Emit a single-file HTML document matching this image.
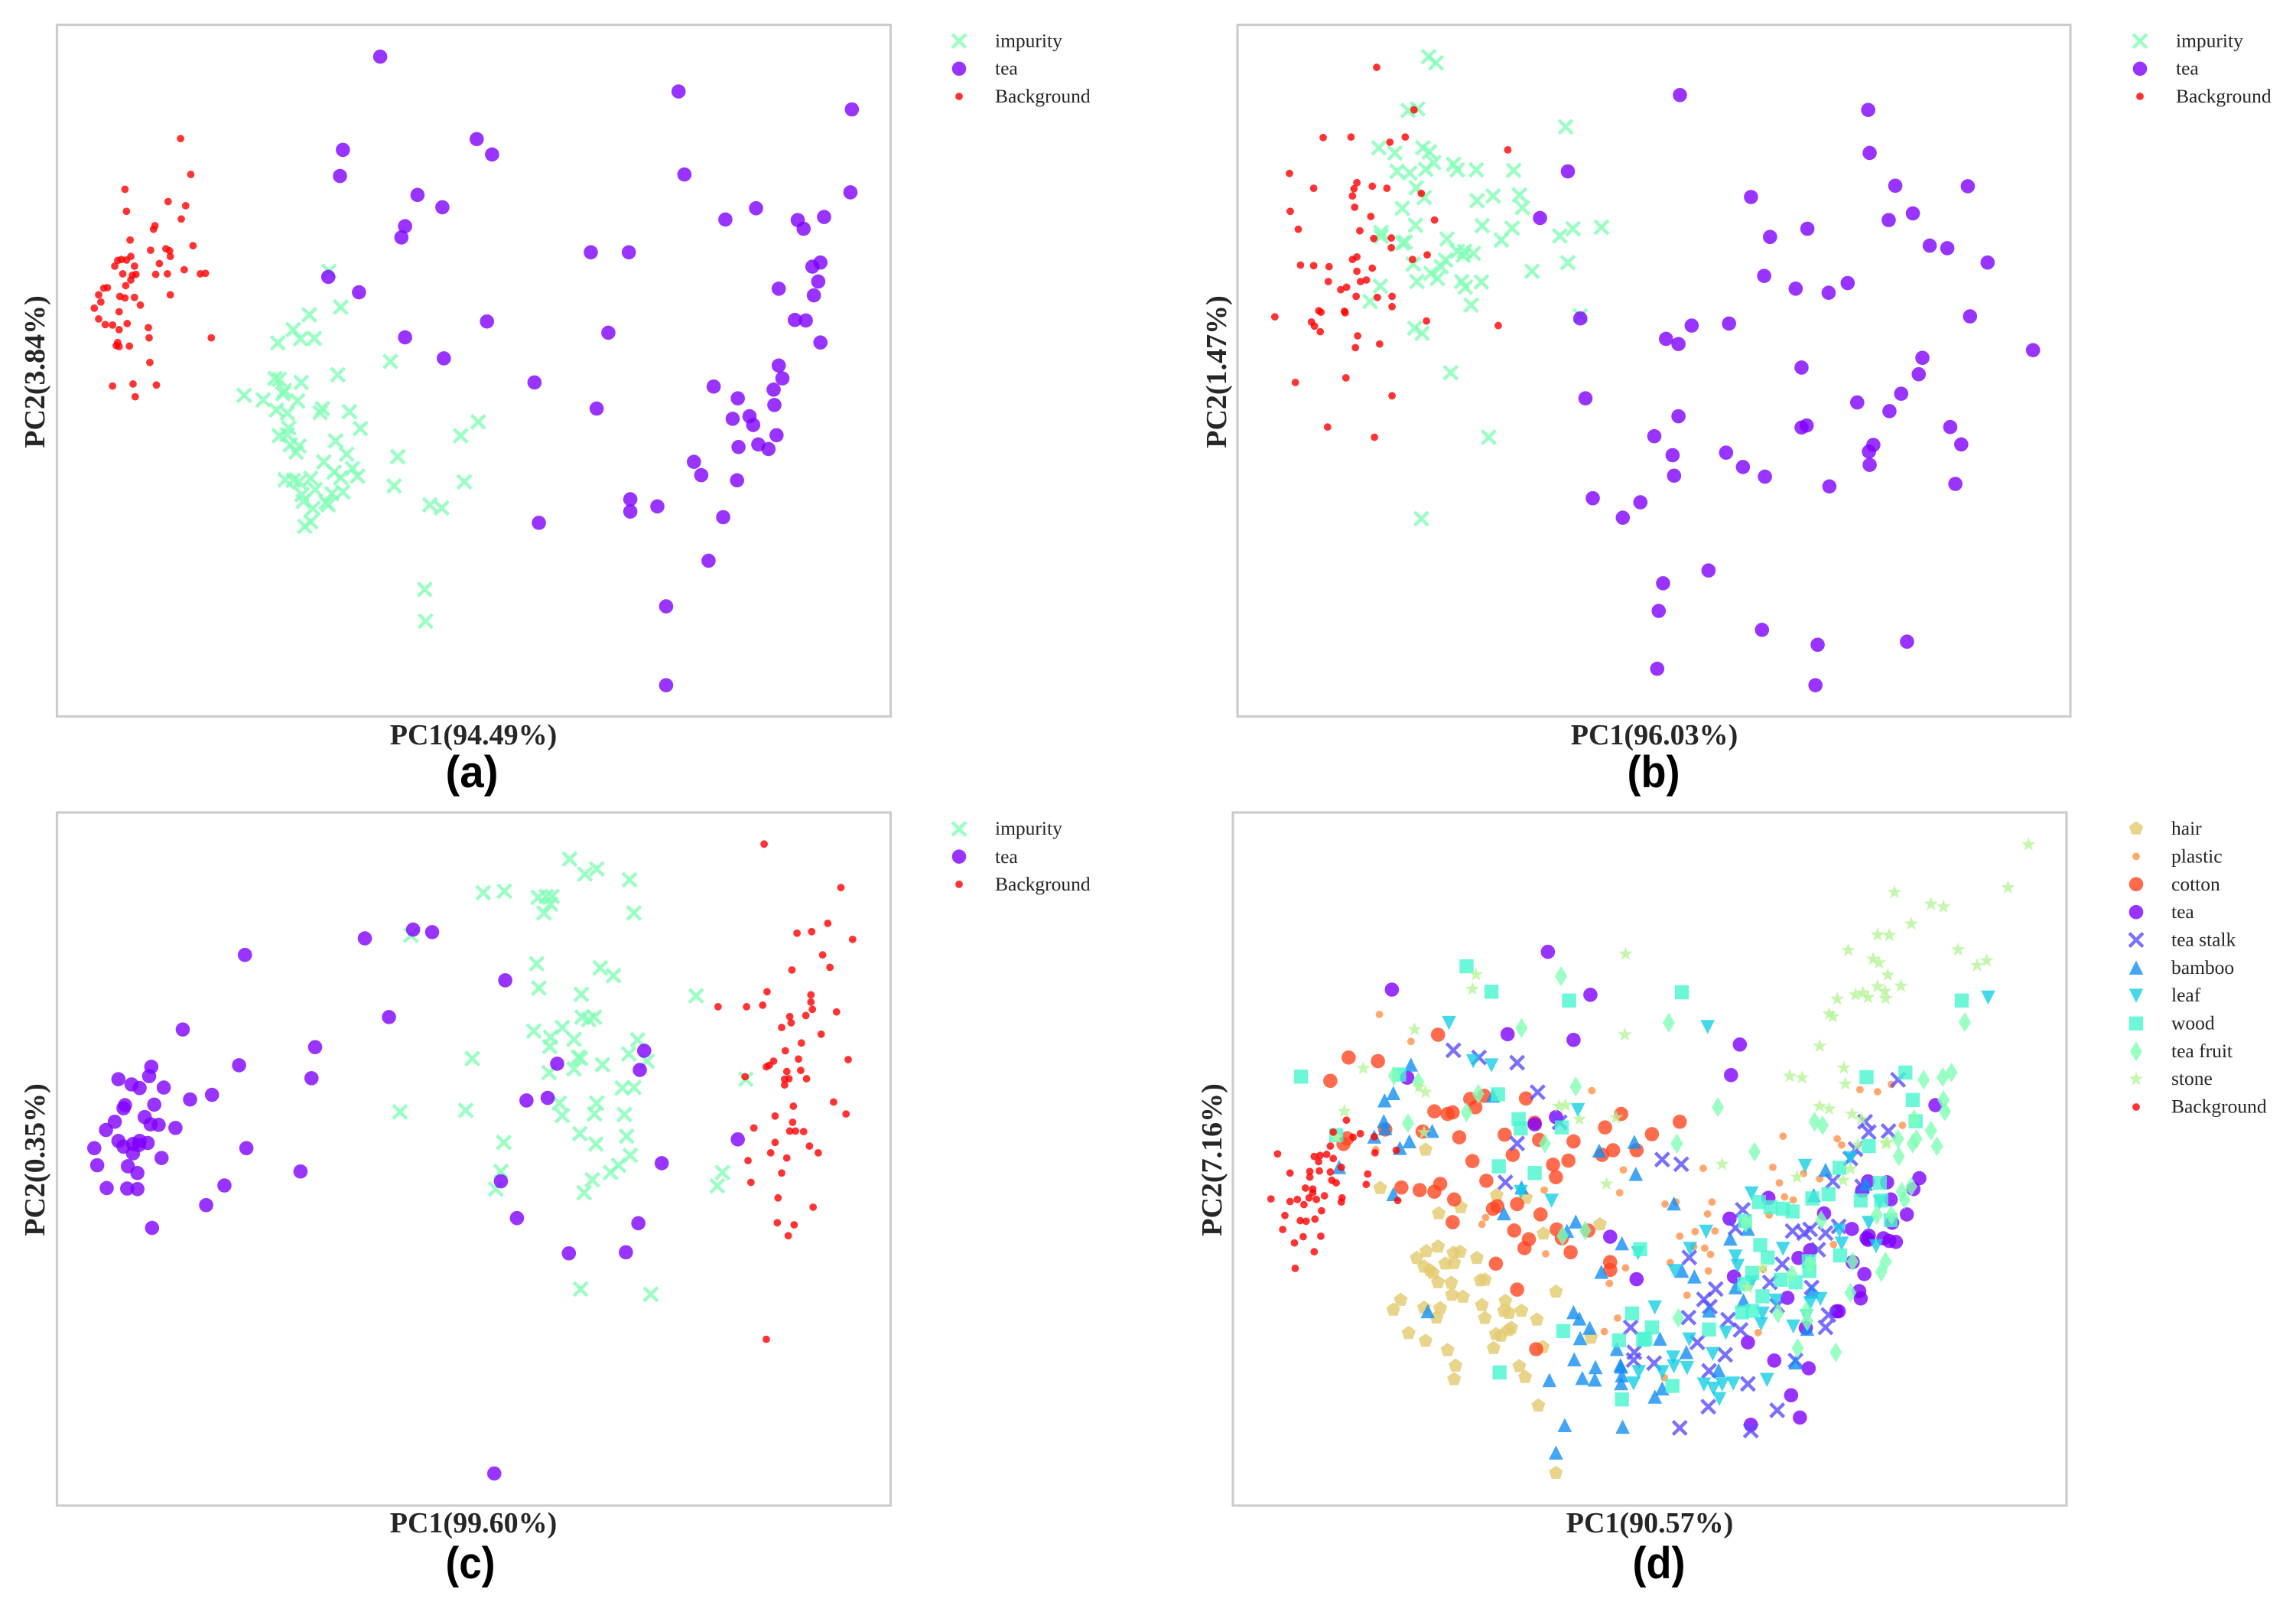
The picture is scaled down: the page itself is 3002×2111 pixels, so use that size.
<!DOCTYPE html>
<html lang="en">
<head>
<meta charset="utf-8">
<title>PCA score plots</title>
<style>
html,body{margin:0;padding:0;background:#fff;}
svg{display:block;}
.frame{fill:#fff;stroke:#cccccc;stroke-width:3.2;}
.legend-text{font-family:"Liberation Serif",serif;font-size:25.5px;fill:#262626;}
.axis-title{font-family:"Liberation Serif",serif;font-size:38px;font-weight:bold;fill:#262626;text-anchor:middle;}
.panel-tag{font-family:"Liberation Sans",sans-serif;font-size:58px;font-weight:bold;fill:#000;text-anchor:middle;}
</style>
</head>
<body>
<svg id="fig" xmlns="http://www.w3.org/2000/svg" width="3002" height="2111" viewBox="0 0 3002 2111">
  <rect x="0" y="0" width="3002" height="2111" fill="#fff"/>

  <g id="panel-a">
    <rect class="frame" x="74.5" y="32.5" width="1090" height="904"/>
    <text class="axis-title" x="619" y="973">PC1(94.49%)</text>
    <text class="axis-title" transform="translate(58 486) rotate(-90)">PC2(3.84%)</text>
    <text class="panel-tag" x="617" y="1029" textLength="69" lengthAdjust="spacingAndGlyphs">(a)</text>
    <text class="legend-text" x="1301" y="61.5">impurity</text>
    <text class="legend-text" x="1301" y="97.5">tea</text>
    <text class="legend-text" x="1301" y="134">Background</text>
  </g>

  <g id="panel-b">
    <rect class="frame" x="1618" y="32.5" width="1089" height="904"/>
    <text class="axis-title" x="2163" y="973">PC1(96.03%)</text>
    <text class="axis-title" transform="translate(1603 486) rotate(-90)">PC2(1.47%)</text>
    <text class="panel-tag" x="2162" y="1029" textLength="69" lengthAdjust="spacingAndGlyphs">(b)</text>
    <text class="legend-text" x="2845" y="61.5">impurity</text>
    <text class="legend-text" x="2845" y="97.5">tea</text>
    <text class="legend-text" x="2845" y="134">Background</text>
  </g>

  <g id="panel-c">
    <rect class="frame" x="74.5" y="1062" width="1090" height="906"/>
    <text class="axis-title" x="619" y="2003">PC1(99.60%)</text>
    <text class="axis-title" transform="translate(58 1516) rotate(-90)">PC2(0.35%)</text>
    <text class="panel-tag" x="615" y="2063" textLength="65" lengthAdjust="spacingAndGlyphs">(c)</text>
    <text class="legend-text" x="1301" y="1091">impurity</text>
    <text class="legend-text" x="1301" y="1128">tea</text>
    <text class="legend-text" x="1301" y="1164">Background</text>
  </g>

  <g id="panel-d">
    <rect class="frame" x="1612" y="1062" width="1090" height="906"/>
    <text class="axis-title" x="2157" y="2003">PC1(90.57%)</text>
    <text class="axis-title" transform="translate(1597 1516) rotate(-90)">PC2(7.16%)</text>
    <text class="panel-tag" x="2169" y="2063" textLength="69" lengthAdjust="spacingAndGlyphs">(d)</text>
    <text class="legend-text" x="2839" y="1091">hair</text>
    <text class="legend-text" x="2839" y="1127.5">plastic</text>
    <text class="legend-text" x="2839" y="1164">cotton</text>
    <text class="legend-text" x="2839" y="1200">tea</text>
    <text class="legend-text" x="2839" y="1236.5">tea stalk</text>
    <text class="legend-text" x="2839" y="1273">bamboo</text>
    <text class="legend-text" x="2839" y="1309">leaf</text>
    <text class="legend-text" x="2839" y="1345.5">wood</text>
    <text class="legend-text" x="2839" y="1382">tea fruit</text>
    <text class="legend-text" x="2839" y="1418">stone</text>
    <text class="legend-text" x="2839" y="1454.5">Background</text>
  </g>
</svg>

<script>
/* Panel (a) scores */
const aImpurity=[[449,529],[465,599],[422,614],[400,643],[379,669],[410,661],[429,660],[533,705],[461,731],[375,738],[381,740],[411,746],[388,762],[386,768],[333,771],[359,780],[406,782],[377,800],[392,806],[440,797],[437,805],[477,803],[492,836],[394,835],[381,850],[392,848],[458,860],[396,868],[408,870],[404,882],[473,886],[653,823],[629,850],[543,891],[442,901],[456,921],[481,914],[488,929],[465,932],[389,936],[400,937],[408,940],[424,933],[430,955],[412,965],[538,948],[634,940],[468,960],[453,963],[414,978],[445,980],[448,985],[427,992],[587,985],[603,991],[424,1018],[416,1027],[580,1150],[581,1212]];
const aTea=[[519,110],[927,178],[1164,213],[651,271],[672,301],[468,292],[464,343],[935,340],[570,380],[604,404],[553,441],[548,463],[1162,375],[1033,406],[991,428],[1090,429],[1126,423],[1098,446],[807,492],[859,492],[1121,512],[1110,520],[1118,549],[1064,563],[1112,576],[448,540],[490,570],[665,627],[553,658],[606,699],[831,649],[1086,624],[1101,625],[1121,668],[1064,713],[1069,738],[730,746],[975,754],[1057,760],[1008,777],[1058,790],[815,797],[1024,812],[1001,817],[1029,829],[1061,849],[1036,867],[1009,872],[1050,876],[948,901],[958,927],[1007,937],[861,974],[861,998],[898,988],[736,1020],[988,1009],[968,1094],[910,1183],[910,1337]];
const aBackground=[[246,270],[260,340],[170,369],[229,393],[253,401],[172,412],[247,427],[211,440],[209,447],[177,468],[263,479],[205,488],[226,485],[231,489],[178,500],[232,500],[160,508],[165,506],[172,507],[156,519],[183,519],[217,514],[251,526],[273,534],[280,533],[167,534],[185,535],[212,535],[228,534],[180,537],[178,546],[171,557],[141,562],[146,561],[134,575],[163,578],[170,581],[183,580],[232,575],[137,589],[191,595],[128,601],[162,608],[134,622],[143,633],[153,634],[173,631],[202,639],[162,643],[203,659],[288,659],[160,668],[158,674],[162,676],[176,675],[204,707],[181,749],[153,753],[213,751],[184,774]];

/* Panel (b) scores */
const bImpurity=[[384,110],[394,122],[369,212],[356,215],[571,247],[316,288],[376,288],[338,298],[385,296],[391,317],[418,320],[423,331],[380,330],[449,331],[341,334],[358,337],[500,332],[367,366],[508,380],[378,385],[472,382],[450,391],[512,405],[348,406],[366,439],[457,440],[498,445],[581,446],[620,443],[319,453],[563,460],[319,461],[409,466],[483,468],[352,472],[348,474],[423,490],[433,490],[445,494],[431,498],[407,507],[574,512],[363,515],[401,520],[525,529],[387,533],[396,543],[368,549],[429,549],[456,550],[318,558],[434,560],[304,588],[442,595],[591,616],[365,640],[375,650],[414,727],[466,853],[374,1012]];
const bTea=[[727,185],[984,214],[986,298],[574,334],[1021,362],[1120,363],[824,384],[1045,416],[1012,429],[536,425],[901,446],[850,462],[1068,479],[1092,484],[1147,512],[842,538],[956,552],[885,563],[930,571],[1123,617],[591,621],[743,635],[794,631],[708,661],[725,671],[1209,683],[1058,698],[893,717],[1053,730],[1029,768],[969,785],[598,777],[1013,802],[725,812],[1096,833],[900,830],[893,834],[692,851],[991,868],[985,881],[1111,867],[717,888],[790,883],[813,911],[986,907],[719,928],[843,930],[931,949],[1103,944],[608,972],[673,980],[649,1010],[766,1113],[704,1138],[698,1192],[839,1229],[915,1258],[1037,1252],[696,1305],[912,1337]];
const bBackground=[[313,131],[364,214],[240,268],[278,267],[352,267],[331,277],[492,292],[194,338],[286,356],[307,363],[227,367],[282,368],[327,367],[374,377],[280,382],[283,404],[195,412],[305,422],[392,429],[206,447],[290,450],[333,464],[309,465],[333,483],[382,497],[286,501],[280,506],[362,506],[209,517],[227,518],[248,520],[307,523],[286,529],[299,546],[247,549],[291,549],[272,560],[264,565],[285,578],[314,580],[334,578],[334,598],[234,606],[237,609],[269,607],[270,610],[174,618],[224,628],[228,636],[381,626],[479,635],[236,647],[287,655],[317,671],[284,678],[202,746],[271,737],[334,772],[246,833],[310,853]];

/* Panel (c) scores */
const cImpurity=[[778,108],[815,127],[799,137],[860,148],[660,173],[689,170],[735,182],[746,180],[754,180],[752,195],[743,212],[866,212],[561,255],[733,310],[820,318],[838,333],[736,357],[794,369],[951,372],[812,413],[795,413],[804,418],[768,433],[729,440],[752,452],[784,456],[751,470],[871,457],[859,484],[645,493],[884,498],[790,490],[793,493],[784,513],[823,505],[750,520],[1019,533],[850,550],[866,549],[546,596],[636,593],[764,579],[815,579],[812,600],[853,601],[768,603],[792,638],[856,643],[688,655],[814,658],[861,680],[845,699],[834,713],[684,711],[809,727],[987,713],[980,739],[677,745],[798,752],[793,938],[889,948]];
const cTea=[[334,293],[498,261],[564,244],[590,249],[690,342],[531,413],[249,437],[430,471],[326,506],[206,509],[203,527],[161,533],[179,543],[190,550],[223,549],[425,531],[289,563],[259,572],[210,582],[170,583],[168,589],[197,606],[156,615],[205,620],[216,621],[239,627],[144,631],[161,652],[190,652],[201,656],[168,663],[181,658],[189,660],[128,666],[336,666],[181,676],[220,685],[132,699],[174,701],[187,714],[410,711],[145,743],[173,744],[187,745],[306,738],[281,776],[207,820],[880,478],[874,515],[761,503],[748,569],[719,574],[1008,649],[904,695],[684,730],[706,801],[872,811],[855,867],[777,869],[675,1294]];
const cBackground=[[1044,79],[1149,163],[1131,232],[1089,251],[1109,248],[1165,263],[1124,293],[1134,317],[1082,322],[1048,364],[1108,370],[1108,384],[981,393],[1020,393],[1042,390],[1110,398],[1143,403],[1101,410],[1079,412],[1081,424],[1068,433],[1122,446],[1095,463],[1073,478],[1159,495],[1091,494],[1057,498],[1051,506],[1047,509],[1075,518],[1094,516],[1018,528],[1072,533],[1078,532],[1102,532],[1072,544],[1139,577],[1084,585],[1156,600],[1059,604],[1083,616],[1030,627],[1079,633],[1087,633],[1098,634],[1059,655],[1106,662],[1053,675],[1118,675],[1075,685],[1022,690],[1068,714],[1026,732],[1063,762],[1111,780],[1062,810],[1085,814],[1077,835],[1047,1035]];

/* Panel (d) scores */
const dHair=[[380,669],[318,743],[477,757],[517,762],[428,780],[398,792],[618,813],[541,831],[397,856],[381,865],[368,878],[418,868],[427,866],[450,878],[407,889],[419,888],[378,895],[386,902],[390,907],[397,925],[415,926],[455,921],[461,920],[558,943],[416,949],[431,953],[346,959],[336,978],[378,974],[400,975],[395,993],[457,969],[461,994],[489,961],[487,980],[494,984],[511,980],[532,997],[357,1023],[380,1038],[476,1025],[483,1028],[493,1017],[497,1013],[540,1050],[606,1032],[473,1052],[410,1056],[421,1086],[419,1112],[508,1087],[516,1108],[534,1163],[558,1293]];
const dPlastic=[[317,408],[360,460],[607,555],[312,669],[650,708],[759,705],[854,703],[868,643],[942,648],[948,660],[973,553],[997,557],[1016,543],[1031,622],[896,715],[918,725],[863,733],[645,752],[542,747],[462,800],[457,813],[771,770],[707,774],[722,770],[765,793],[748,827],[727,836],[775,826],[761,859],[769,871],[746,856],[714,887],[653,897],[631,927],[766,903],[737,950],[642,994],[624,1020],[834,1022],[706,1109],[849,795],[870,760],[882,766],[841,900],[937,852],[544,870]];
const dCotton=[[397,447],[275,491],[315,498],[250,536],[517,570],[441,571],[460,565],[448,587],[392,595],[410,600],[417,597],[647,600],[625,626],[727,615],[689,639],[376,634],[325,630],[268,658],[273,647],[426,645],[488,640],[535,650],[529,617],[582,653],[636,670],[668,670],[621,679],[499,679],[444,691],[554,698],[575,690],[463,729],[558,722],[347,742],[372,747],[392,750],[400,735],[419,765],[472,783],[478,778],[505,774],[417,809],[537,794],[501,825],[521,842],[515,859],[559,823],[566,840],[578,867],[602,825],[476,889],[632,886],[632,901],[505,939],[531,1054]];
const dTea=[[547,287],[334,360],[605,370],[492,446],[582,457],[809,466],[797,525],[355,530],[1076,583],[529,620],[558,606],[1054,724],[984,730],[1010,732],[848,762],[976,748],[1046,745],[795,802],[1015,765],[1037,794],[924,792],[962,822],[632,837],[985,835],[1022,847],[982,840],[1013,845],[905,863],[889,878],[963,886],[668,919],[801,914],[979,909],[972,942],[974,956],[874,955],[941,981],[944,981],[899,1013],[820,1041],[856,1076],[903,1091],[879,1143],[891,1186],[824,1200],[984,843],[1017,810],[1005,840]];
const dTeaStalk=[[418,477],[453,491],[505,501],[533,558],[563,616],[505,657],[703,688],[729,697],[489,732],[1025,534],[980,615],[985,635],[1012,633],[967,668],[960,686],[936,730],[813,785],[803,820],[881,826],[897,830],[905,823],[926,830],[944,817],[916,862],[740,877],[867,890],[850,925],[776,938],[760,958],[768,972],[739,993],[793,997],[860,970],[907,935],[926,1012],[930,988],[660,1012],[810,1017],[751,1041],[665,1060],[789,1065],[692,1081],[664,1075],[767,1096],[885,1076],[820,1121],[766,1165],[860,1172],[727,1206],[824,1211],[976,740]];
const dBamboo=[[360,505],[336,560],[324,574],[323,614],[325,628],[389,633],[358,653],[345,666],[310,644],[262,703],[336,755],[472,565],[665,654],[617,671],[667,716],[511,742],[487,792],[719,773],[585,808],[573,826],[648,850],[796,841],[820,822],[620,905],[730,903],[747,914],[803,935],[814,960],[767,980],[383,981],[582,983],[590,995],[604,1013],[591,1033],[583,1074],[641,1054],[736,1060],[700,1034],[646,1085],[647,1088],[612,1089],[594,1110],[611,1113],[549,1114],[647,1120],[648,1105],[703,1130],[693,1146],[780,1095],[570,1201],[649,1204],[558,1254],[901,1015],[926,708],[910,757],[907,943],[885,1080],[981,735]];
const dLeaf=[[412,424],[445,498],[470,506],[588,592],[765,432],[1148,375],[898,700],[825,753],[552,767],[510,750],[763,827],[670,868],[741,860],[803,875],[868,860],[806,893],[948,850],[720,903],[825,925],[693,973],[882,1010],[740,1035],[790,1022],[772,1063],[718,1070],[719,1087],[737,1090],[671,1098],[703,1098],[664,1120],[760,1122],[773,1130],[785,1122],[800,1120],[846,1113],[781,1150],[919,957],[840,985],[838,1005],[858,960],[905,965],[900,990],[960,685],[985,810],[995,855],[945,825],[1000,770]];
const dWood=[[436,315],[470,364],[576,381],[730,365],[1112,381],[210,528],[344,524],[479,562],[1035,520],[982,529],[1045,573],[507,610],[510,628],[566,626],[1049,614],[258,641],[985,662],[480,701],[529,714],[945,704],[930,755],[908,763],[835,770],[851,780],[868,783],[881,788],[974,767],[1000,733],[1002,767],[816,807],[837,853],[673,861],[847,877],[946,873],[903,884],[904,903],[826,907],[815,928],[865,920],[885,925],[840,952],[826,980],[812,983],[662,985],[568,1019],[689,1012],[767,1016],[644,1037],[680,1034],[677,1036],[481,1099],[717,1125],[648,1151],[1015,805]];
const dTeaFruit=[[565,334],[511,434],[712,424],[1116,423],[337,526],[370,538],[585,547],[1098,520],[1060,534],[1086,529],[1087,573],[1089,595],[779,587],[436,597],[452,561],[356,618],[911,615],[922,622],[1047,610],[1070,632],[1025,648],[1050,648],[1078,662],[1045,657],[1026,682],[543,657],[723,657],[829,673],[1043,740],[1030,750],[1034,765],[996,795],[1016,795],[920,805],[567,835],[598,825],[817,810],[1008,885],[1002,905],[963,885],[905,890],[880,910],[861,985],[725,994],[960,945],[900,980],[901,1000],[888,1052],[940,1060]];
const dStone=[[1203,80],[1175,163],[1020,172],[1070,195],[1087,200],[1043,233],[997,254],[1013,255],[957,284],[1107,283],[991,301],[999,308],[1146,304],[1133,313],[653,291],[1011,332],[449,331],[444,359],[1029,353],[997,354],[1007,363],[967,370],[977,366],[984,375],[1008,377],[942,378],[931,407],[936,412],[365,437],[652,447],[918,469],[295,512],[951,511],[953,542],[877,527],[894,530],[371,548],[380,558],[269,595],[562,585],[571,583],[590,610],[640,607],[918,585],[931,590],[962,600],[975,610],[378,636],[258,645],[1008,657],[785,697],[627,735],[887,722],[960,706],[950,728],[820,935],[1010,655],[970,660],[840,897]];
const dBackground=[[272,612],[254,635],[291,638],[281,645],[310,644],[311,675],[340,670],[250,662],[245,678],[236,680],[228,682],[254,686],[178,677],[234,692],[195,714],[222,711],[235,710],[250,712],[222,722],[301,716],[265,703],[258,733],[252,728],[299,736],[216,743],[226,745],[226,752],[221,762],[242,758],[169,764],[195,769],[205,765],[214,775],[231,765],[266,762],[265,770],[342,767],[238,787],[188,796],[229,803],[209,806],[217,807],[185,823],[237,836],[213,837],[201,849],[228,866],[202,898]];

const SVGNS='http://www.w3.org/2000/svg';

function polygonPath(cx,cy,pts){
  return 'M'+pts.map(function(p){return (cx+p[0]).toFixed(1)+' '+(cy+p[1]).toFixed(1);}).join('L')+'Z';
}
function ring(n,r,inner){
  const out=[];
  const count=inner?n*2:n;
  for(let i=0;i<count;i++){
    const a=-Math.PI/2+i*2*Math.PI/count;
    const rad=(inner&&i%2===1)?inner:r;
    out.push([rad*Math.cos(a),rad*Math.sin(a)]);
  }
  return out;
}
const PENTAGON=ring(5,9.6);
const STAR=ring(5,9.8,3.9);

function makeMarker(shape,color,cx,cy){
  let el;
  if(shape==='circle'||shape==='dot'){
    el=document.createElementNS(SVGNS,'circle');
    el.setAttribute('cx',cx);
    el.setAttribute('cy',cy);
    el.setAttribute('r',shape==='circle'?9.3:4.9);
    el.setAttribute('fill',color);
  }else if(shape==='x'){
    el=document.createElementNS(SVGNS,'path');
    const h=8.9;
    el.setAttribute('d','M'+(cx-h)+' '+(cy-h)+'L'+(cx+h)+' '+(cy+h)+'M'+(cx-h)+' '+(cy+h)+'L'+(cx+h)+' '+(cy-h));
    el.setAttribute('stroke',color);
    el.setAttribute('stroke-width','4.4');
    el.setAttribute('fill','none');
  }else{
    let pts;
    if(shape==='triangle-up')pts=[[0,-9.5],[9.3,9],[-9.3,9]];
    if(shape==='triangle-down')pts=[[-9.3,-9],[9.3,-9],[0,9.5]];
    if(shape==='square')pts=[[-9.2,-9.2],[9.2,-9.2],[9.2,9.2],[-9.2,9.2]];
    if(shape==='diamond')pts=[[0,-13],[8,0],[0,13],[-8,0]];
    if(shape==='pentagon')pts=PENTAGON;
    if(shape==='star')pts=STAR;
    el=document.createElementNS(SVGNS,'path');
    el.setAttribute('d',polygonPath(cx,cy,pts));
    el.setAttribute('fill',color);
  }
  el.setAttribute('opacity','0.8');
  return el;
}

function drawSeries(group,points,shape,color,xAxis,yAxis,name){
  points.forEach(function(p){
    const el=makeMarker(shape,color,xAxis(p[0]),yAxis(p[1]));
    
    
    group.appendChild(el);
  });
}
function linearAxis(d0,d1,r0,r1){
  return function(v){return +(r0+(v-d0)*(r1-r0)/(d1-d0)).toFixed(2);};
}

const IMPURITY='rgb(128,255,180)',TEA='rgb(128,0,255)',RED='rgb(255,0,0)';

function threeClassPanel(id,xAxis,yAxis,imp,tea,bg,legendX,legendY){
  const g=document.getElementById(id);
  drawSeries(g,imp,'x',IMPURITY,xAxis,yAxis,'impurity');
  drawSeries(g,tea,'circle',TEA,xAxis,yAxis,'tea');
  drawSeries(g,bg,'dot',RED,xAxis,yAxis,'background');
  const keys=[['x',IMPURITY,'impurity'],['circle',TEA,'tea'],['dot',RED,'background']];
  keys.forEach(function(k,i){
    const m=makeMarker(k[0],k[1],legendX,legendY+i*36.2);
    
    
    g.appendChild(m);
  });
}

threeClassPanel('panel-a',linearAxis(77,1217,74.5,1164.5),linearAxis(48,1398,32.5,936.5),aImpurity,aTea,aBackground,1254,53.6);
threeClassPanel('panel-b',linearAxis(123,1260,1618,2707),linearAxis(48,1398,32.5,936.5),bImpurity,bTea,bBackground,2798,53.6);
threeClassPanel('panel-c',linearAxis(77,1217,74.5,1164.5),linearAxis(18,1356,1062,1968),cImpurity,cTea,cBackground,1254,1083.5);

const dSeriesNames=['hair','plastic','cotton','tea','tea-stalk','bamboo','leaf','wood','tea-fruit','stone','background'];
const dSeriesShapes=['pentagon','dot','circle','circle','x','triangle-up','triangle-down','square','diamond','star','dot'];
const dSeriesColors=['rgb(226,202,110)','rgb(255,145,72)','rgb(255,70,32)','rgb(128,0,255)','rgb(89,76,255)','rgb(19,142,242)','rgb(21,206,227)','rgb(72,245,207)','rgb(128,255,180)','rgb(181,245,151)','rgb(255,0,0)'];
const dSeriesValues=[dHair,dPlastic,dCotton,dTea,dTeaStalk,dBamboo,dLeaf,dWood,dTeaFruit,dStone,dBackground];

(function(){
  const g=document.getElementById('panel-d');
  const xAxis=linearAxis(117,1255,1612,2702);
  const yAxis=linearAxis(18,1356,1062,1968);
  dSeriesValues.forEach(function(vals,i){
    drawSeries(g,vals,dSeriesShapes[i],dSeriesColors[i],xAxis,yAxis,dSeriesNames[i]);
    const m=makeMarker(dSeriesShapes[i],dSeriesColors[i],2793,1083+i*36.4);
    
    
    g.appendChild(m);
  });
})();
</script>
</body>
</html>
